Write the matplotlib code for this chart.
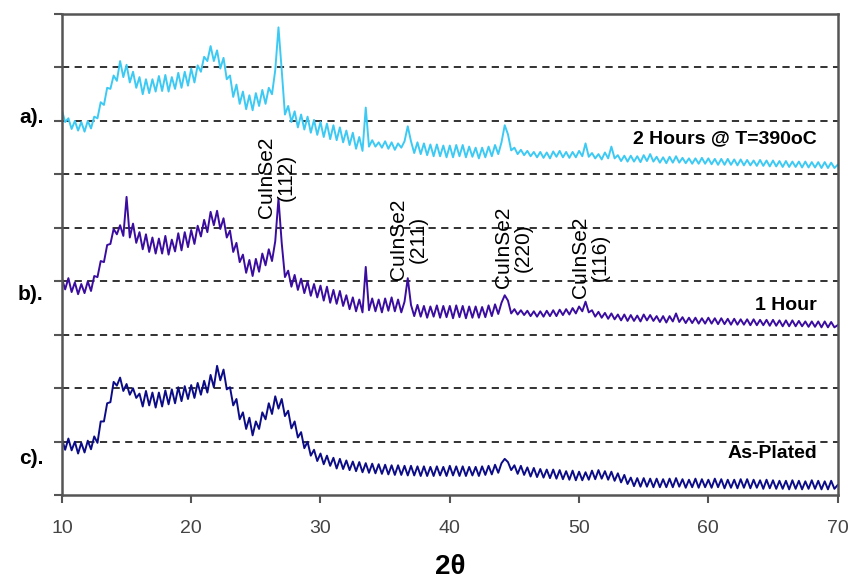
import numpy as np
import matplotlib
matplotlib.use('Agg')
import matplotlib.pyplot as plt
import matplotlib.transforms as mtransforms

# scan angles, 0.25 deg steps from 10 to 70
two_theta = np.linspace(10, 70, 241)

# a) 2 hours @ 390C (offset trace, arbitrary units)
trace_a = [
    7.20, 6.98, 7.05, 6.85,  7.00, 6.82, 6.98, 6.80,  7.00, 6.86, 7.08, 7.05,
    7.35, 7.30, 7.62, 7.60,  7.85, 7.75, 8.12, 7.82,  8.05, 7.72, 7.92, 7.62,
    7.82, 7.50, 7.78, 7.52,  7.78, 7.55, 7.84, 7.56,  7.86, 7.55, 7.82, 7.60,
    7.90, 7.62, 7.92, 7.66,  7.98, 7.72, 8.04, 7.92,  8.20, 8.12, 8.40, 8.12,
    8.32, 7.98, 8.18, 7.78,  7.85, 7.45, 7.68, 7.32,  7.55, 7.22, 7.48, 7.20,
    7.52, 7.28, 7.58, 7.32,  7.62, 7.50, 7.95, 8.75,  7.95, 7.12, 7.28, 6.98,
    7.18, 6.88, 7.12, 6.84,  7.08, 6.78, 7.02, 6.74,  6.98, 6.70, 6.95, 6.66,
    6.92, 6.64, 6.88, 6.60,  6.82, 6.55, 6.78, 6.48,  6.70, 6.44, 7.25, 6.52,
    6.64, 6.52, 6.60, 6.50,  6.62, 6.48, 6.60, 6.46,  6.58, 6.50, 6.62, 6.90,
    6.62, 6.40, 6.60, 6.38,  6.58, 6.36, 6.56, 6.34,  6.56, 6.34, 6.54, 6.32,
    6.54, 6.32, 6.55, 6.34,  6.55, 6.32, 6.52, 6.33,  6.50, 6.30, 6.50, 6.32,
    6.52, 6.34, 6.55, 6.38,  6.60, 6.92, 6.75, 6.45,  6.50, 6.38, 6.46, 6.36,
    6.44, 6.34, 6.42, 6.32,  6.42, 6.31, 6.41, 6.30,  6.43, 6.33, 6.44, 6.32,
    6.42, 6.31, 6.42, 6.32,  6.44, 6.34, 6.58, 6.33,  6.40, 6.30, 6.38, 6.28,
    6.41, 6.30, 6.52, 6.30,  6.36, 6.25, 6.35, 6.24,  6.35, 6.24, 6.34, 6.23,
    6.36, 6.25, 6.38, 6.24,  6.33, 6.22, 6.32, 6.21,  6.33, 6.22, 6.34, 6.22,
    6.31, 6.21, 6.30, 6.20,  6.30, 6.20, 6.31, 6.20,  6.30, 6.19, 6.29, 6.18,
    6.29, 6.18, 6.29, 6.18,  6.28, 6.17, 6.28, 6.17,  6.27, 6.17, 6.26, 6.16,
    6.27, 6.16, 6.26, 6.15,  6.26, 6.15, 6.25, 6.14,  6.25, 6.14, 6.24, 6.14,
    6.24, 6.13, 6.24, 6.13,  6.23, 6.13, 6.23, 6.12,  6.23, 6.12, 6.22, 6.12,
    6.18,
]

# b) 1 hour
trace_b = [
    4.05, 3.85, 4.06, 3.80,  3.98, 3.76, 3.95, 3.78,  4.00, 3.82, 4.10, 4.08,
    4.38, 4.36, 4.68, 4.70,  4.98, 4.88, 5.05, 4.85,  5.58, 4.82, 5.08, 4.72,
    4.92, 4.60, 4.88, 4.55,  4.82, 4.52, 4.80, 4.52,  4.85, 4.50, 4.78, 4.56,
    4.90, 4.58, 4.92, 4.64,  4.96, 4.70, 5.04, 4.84,  5.15, 4.92, 5.30, 5.05,
    5.32, 4.98, 5.18, 4.82,  4.95, 4.55, 4.72, 4.36,  4.50, 4.16, 4.40, 4.10,
    4.42, 4.18, 4.52, 4.30,  4.60, 4.38, 4.75, 5.55,  4.72, 4.08, 4.20, 3.90,
    4.12, 3.84, 4.05, 3.78,  4.00, 3.73, 3.95, 3.70,  3.92, 3.64, 3.90, 3.60,
    3.84, 3.58, 3.82, 3.54,  3.74, 3.48, 3.70, 3.44,  3.66, 3.42, 4.27, 3.46,
    3.68, 3.44, 3.66, 3.42,  3.68, 3.45, 3.70, 3.44,  3.66, 3.42, 3.62, 4.06,
    3.56, 3.35, 3.56, 3.34,  3.54, 3.32, 3.53, 3.34,  3.55, 3.32, 3.54, 3.33,
    3.54, 3.31, 3.55, 3.33,  3.54, 3.31, 3.53, 3.32,  3.53, 3.32, 3.52, 3.33,
    3.55, 3.35, 3.57, 3.39,  3.60, 3.74, 3.64, 3.40,  3.48, 3.38, 3.46, 3.37,
    3.45, 3.35, 3.44, 3.34,  3.44, 3.34, 3.45, 3.35,  3.46, 3.35, 3.47, 3.37,
    3.48, 3.38, 3.50, 3.40,  3.53, 3.44, 3.62, 3.42,  3.46, 3.34, 3.43, 3.32,
    3.41, 3.30, 3.40, 3.29,  3.38, 3.27, 3.38, 3.26,  3.37, 3.26, 3.36, 3.25,
    3.38, 3.27, 3.37, 3.26,  3.35, 3.24, 3.35, 3.23,  3.35, 3.25, 3.40, 3.24,
    3.33, 3.22, 3.32, 3.22,  3.32, 3.21, 3.31, 3.21,  3.32, 3.21, 3.31, 3.20,
    3.31, 3.20, 3.30, 3.19,  3.30, 3.19, 3.29, 3.19,  3.29, 3.18, 3.29, 3.18,
    3.28, 3.18, 3.28, 3.17,  3.28, 3.17, 3.27, 3.16,  3.27, 3.16, 3.27, 3.16,
    3.26, 3.16, 3.25, 3.15,  3.25, 3.15, 3.25, 3.14,  3.25, 3.14, 3.24, 3.14,
    3.18,
]

# c) as-plated
trace_c = [
    1.05, 0.85, 1.06, 0.84,  1.00, 0.78, 0.98, 0.80,  1.02, 0.86, 1.10, 0.98,
    1.38, 1.38, 1.72, 1.74,  2.12, 2.05, 2.20, 1.95,  2.08, 1.88, 2.00, 1.82,
    1.90, 1.66, 1.95, 1.68,  1.92, 1.64, 1.92, 1.66,  1.96, 1.70, 1.98, 1.72,
    2.02, 1.76, 2.04, 1.80,  2.06, 1.82, 2.10, 1.88,  2.14, 1.92, 2.25, 2.02,
    2.42, 2.15, 2.35, 1.98,  2.02, 1.68, 1.80, 1.42,  1.55, 1.24, 1.45, 1.12,
    1.38, 1.24, 1.55, 1.42,  1.72, 1.52, 1.85, 1.62,  1.80, 1.48, 1.58, 1.25,
    1.38, 1.08, 1.18, 0.88,  1.00, 0.74, 0.85, 0.64,  0.78, 0.58, 0.74, 0.55,
    0.70, 0.50, 0.68, 0.49,  0.65, 0.47, 0.63, 0.45,  0.62, 0.43, 0.60, 0.42,
    0.59, 0.41, 0.58, 0.40,  0.57, 0.39, 0.56, 0.38,  0.56, 0.38, 0.55, 0.37,
    0.55, 0.37, 0.54, 0.36,  0.54, 0.36, 0.53, 0.36,  0.54, 0.37, 0.53, 0.36,
    0.55, 0.37, 0.54, 0.36,  0.54, 0.36, 0.53, 0.37,  0.53, 0.36, 0.54, 0.38,
    0.55, 0.39, 0.57, 0.42,  0.60, 0.68, 0.62, 0.47,  0.56, 0.40, 0.55, 0.38,
    0.52, 0.35, 0.51, 0.34,  0.49, 0.33, 0.48, 0.32,  0.48, 0.31, 0.47, 0.30,
    0.45, 0.29, 0.46, 0.28,  0.44, 0.28, 0.43, 0.29,  0.46, 0.30, 0.47, 0.31,
    0.45, 0.29, 0.44, 0.27,  0.41, 0.24, 0.38, 0.21,  0.33, 0.17, 0.32, 0.16,
    0.32, 0.16, 0.31, 0.15,  0.31, 0.15, 0.30, 0.15,  0.31, 0.15, 0.32, 0.16,
    0.30, 0.14, 0.29, 0.15,  0.31, 0.14, 0.30, 0.15,  0.29, 0.14, 0.31, 0.15,
    0.30, 0.13, 0.29, 0.14,  0.29, 0.13, 0.30, 0.14,  0.30, 0.13, 0.29, 0.14,
    0.28, 0.12, 0.29, 0.13,  0.28, 0.12, 0.27, 0.12,  0.27, 0.11, 0.28, 0.12,
    0.27, 0.11, 0.26, 0.12,  0.28, 0.12, 0.27, 0.11,  0.26, 0.11, 0.27, 0.12,
    0.19,
]

trace_names = ['2 Hours @ T=390oC', '1 Hour', 'As-Plated']
panel_tags = ['a).', 'b).', 'c).']
peak_labels = ['CuInSe2\n(112)', 'CuInSe2\n(211)', 'CuInSe2\n(220)', 'CuInSe2\n(116)']
peak_pos = [26.6, 36.8, 44.9, 50.9]

fam = ['Liberation Sans', 'DejaVu Sans']

fig = plt.figure(figsize=(8.6, 5.84), dpi=100)
ax = fig.add_axes([0.072, 0.152, 0.902, 0.824])

ax.plot(two_theta, trace_a, color='#3CCAF4', lw=1.4)
ax.plot(two_theta, trace_b, color='#3A0CA0', lw=1.4)
ax.plot(two_theta, trace_c, color='#0C0C88', lw=1.4)

ax.set_xlim(10, 70)
ax.set_ylim(0, 9)
ax.set_xticks([10, 20, 30, 40, 50, 60, 70])
ax.set_yticks(range(0, 10))
ax.set_yticklabels([])
for yy in range(1, 9):
    ax.axhline(yy, color='#222222', lw=1.3, ls=(0, (4, 3)), zorder=0)

for s in ax.spines.values():
    s.set_color('#555555')
    s.set_linewidth(1.8)
ax.tick_params(axis='both', direction='out', length=6, width=1.5, color='#555555')
ax.tick_params(axis='x', labelsize=14, labelcolor='#444444', pad=12)
for lab in ax.get_xticklabels():
    lab.set_family(fam)

ax.set_xlabel('2θ', fontsize=20, fontweight='bold', family=fam, labelpad=12)

# trace names on the right
name_y = [6.67, 3.55, 0.78]
for name, yy in zip(trace_names, name_y):
    ax.text(68.4, yy, name, ha='right', va='center', fontsize=14, fontweight='bold', family=fam)

# a). b). c). tags at the left
trans = mtransforms.blended_transform_factory(ax.transAxes, ax.transData)
tag_y = [7.06, 3.76, 0.69]
for tag, yy in zip(panel_tags, tag_y):
    ax.text(-0.024, yy, tag, transform=trans, ha='right', va='center', fontsize=15, fontweight='bold', family=fam)

# peak labels
label_y = [5.95, 4.78, 4.63, 4.45]
for lab, xx, yy in zip(peak_labels, peak_pos, label_y):
    ax.text(xx, yy, lab, rotation=90, ha='center', va='center', multialignment='center',
            fontsize=15, family=fam, linespacing=1.05)

fig.savefig('out.png', dpi=100)
